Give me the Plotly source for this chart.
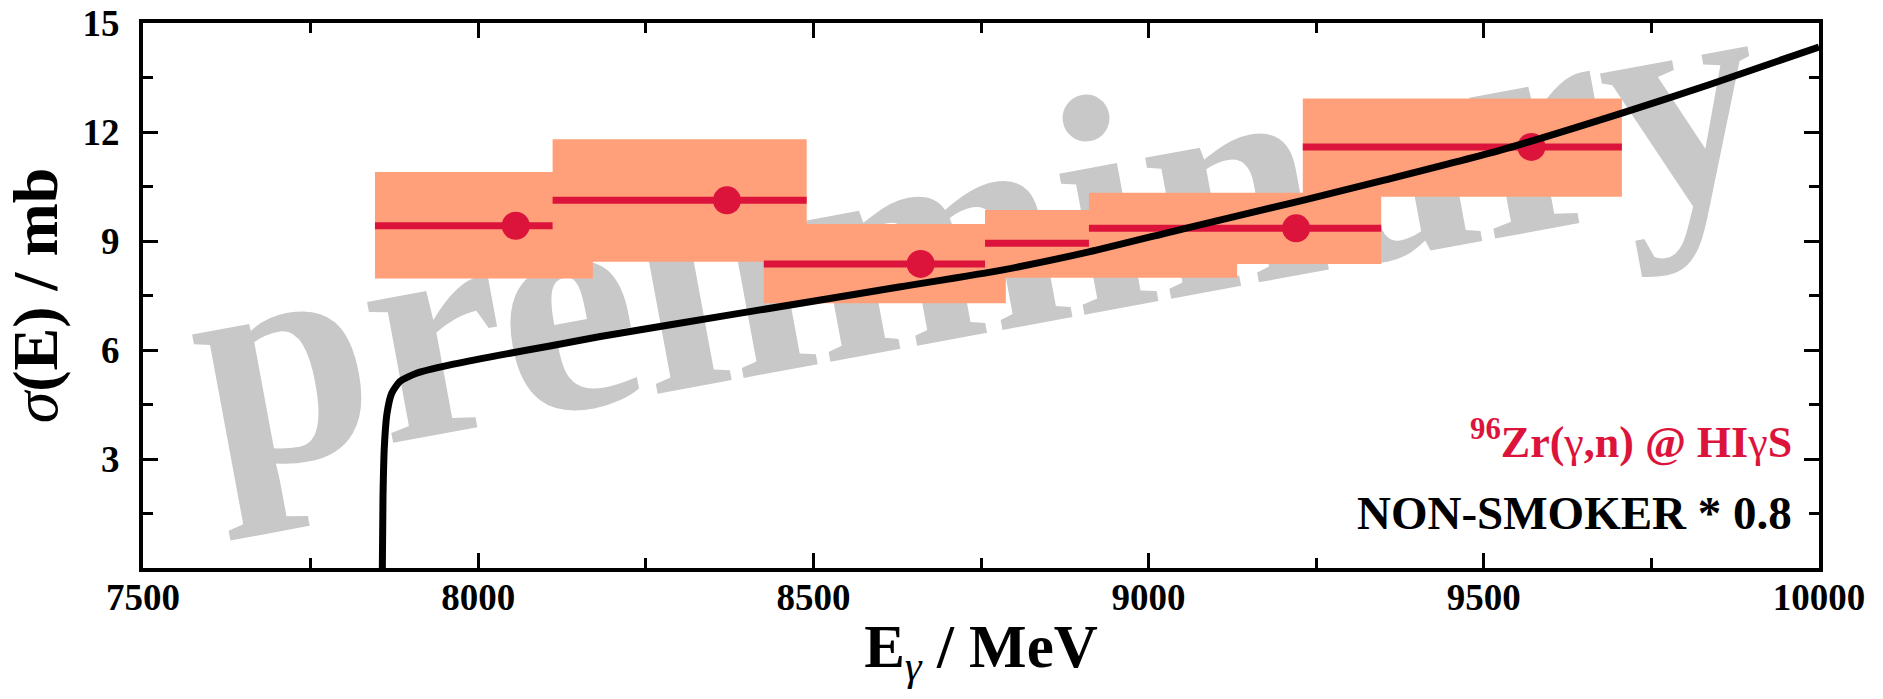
import plotly.graph_objects as go

# ---- data ----
E_LO = [7846, 8111, 8426, 8756, 8911, 9230]
E_HI = [8171, 8490, 8787, 9132, 9347, 9706]
E_PT = [8056, 8371, 8660, 8990, 9220, 9571]
SIGMA = [9.42, 10.12, 8.37, 8.94, 9.35, 11.59]
SIGMA_LO = [7.97, 8.43, 7.29, 7.99, 8.37, 10.22]
SIGMA_HI = [10.90, 11.80, 9.47, 9.85, 10.33, 12.92]

CURVE_E = [7857, 7858, 7860, 7864, 7871, 7883, 7908, 7958, 8032, 8107, 8182,
           8380, 8630, 8781, 8911, 9055, 9230, 9353, 9525, 9706, 9836, 10000]
CURVE_SIGMA = [0.0, 1.97, 3.34, 4.26, 4.81, 5.13, 5.36, 5.59, 5.86, 6.11, 6.37,
               6.98, 7.74, 8.20, 8.70, 9.35, 10.12, 10.68, 11.50, 12.52, 13.30, 14.34]

X_TICKS = [7500, 8000, 8500, 9000, 9500, 10000]
X_TICK_LABELS = ["7500", "8000", "8500", "9000", "9500", "10000"]
X_MINOR = [7750, 8250, 8750, 9250, 9750]
Y_TICKS = [3, 6, 9, 12, 15]
Y_TICK_LABELS = ["3", "6", "9", "12", "15"]
Y_MINOR = [1.5, 4.5, 7.5, 10.5, 13.5]

SALMON = "#FFA07A"
CRIMSON = "#DC143C"
GREY = "#C8C8C8"
FONT = "Liberation Serif"

fig = go.Figure()

for lo, hi, pt, s, slo, shi in zip(E_LO, E_HI, E_PT, SIGMA, SIGMA_LO, SIGMA_HI):
    fig.add_trace(go.Scatter(x=[lo, hi, hi, lo, lo], y=[slo, slo, shi, shi, slo],
                             mode="none", fill="toself", fillcolor=SALMON,
                             hoverinfo="skip", showlegend=False))
    fig.add_trace(go.Scatter(x=[lo, hi], y=[s, s], mode="lines",
                             line=dict(color=CRIMSON, width=7),
                             hoverinfo="skip", showlegend=False))
    fig.add_trace(go.Scatter(x=[pt], y=[s], mode="markers",
                             marker=dict(color=CRIMSON, size=28, line=dict(width=0)),
                             showlegend=False))

fig.add_trace(go.Scatter(x=CURVE_E, y=CURVE_SIGMA, mode="lines",
                         line=dict(color="black", width=7, shape="spline", smoothing=0.6),
                         showlegend=False))

axis_common = dict(
    showline=True, linewidth=4, linecolor="black", mirror="ticks",
    ticks="inside", ticklen=15, tickwidth=3, tickcolor="black",
    showgrid=False, zeroline=False, automargin=False,
    tickfont=dict(family=FONT, size=37, color="black", weight="bold"),
)

fig.update_layout(
    width=1883, height=699,
    margin=dict(l=143, r=64, t=23, b=131, autoexpand=False),
    paper_bgcolor="white", plot_bgcolor="white",
    showlegend=False,
    xaxis=dict(
        range=[7500, 10000], tickmode="array", tickvals=X_TICKS, ticktext=X_TICK_LABELS,
        minor=dict(tickvals=X_MINOR, ticks="inside", ticklen=10, tickwidth=3, tickcolor="black"),
        ticklabelstandoff=-6,
        title=dict(text="E<sub><span style='font-weight:normal'><i>γ</i></span></sub> / MeV",
                   font=dict(family=FONT, size=61, color="black", weight="bold"), standoff=8),
        **axis_common,
    ),
    yaxis=dict(
        range=[0, 15], tickmode="array", tickvals=Y_TICKS, ticktext=Y_TICK_LABELS,
        minor=dict(tickvals=Y_MINOR, ticks="inside", ticklen=10, tickwidth=3, tickcolor="black"),
        ticklabelstandoff=12,
        title=dict(text="<span style='font-weight:normal'><i>σ</i></span>(E) / mb",
                   font=dict(family=FONT, size=64, color="black", weight="bold"), standoff=10),
        **axis_common,
    ),
    shapes=[dict(
        type="rect", xref="paper", yref="paper", x0=0.4435, x1=0.5435, y0=0.635, y1=0.735,
        line=dict(width=0), fillcolor="rgba(0,0,0,0)", layer="below",
        label=dict(text="<b>preliminary</b>", textposition="middle center", textangle=-10.5,
                   font=dict(family=FONT, size=312, color=GREY, weight="bold")),
    )],
    annotations=[
        dict(xref="paper", yref="paper", x=0.985, y=0.1815, xanchor="right", yanchor="bottom",
             showarrow=False,
             text="<b><sup>96</sup>Zr(<span style='font-weight:normal'>γ</span>,n) @ HI"
                  "<span style='font-weight:normal'>γ</span>S</b>",
             font=dict(family=FONT, size=44, color=CRIMSON)),
        dict(xref="paper", yref="paper", x=0.985, y=0.050, xanchor="right", yanchor="bottom",
             showarrow=False, text="<b>NON-SMOKER * 0.8</b>",
             font=dict(family=FONT, size=47, color="black")),
    ],
)

fig.write_html("out.html")
